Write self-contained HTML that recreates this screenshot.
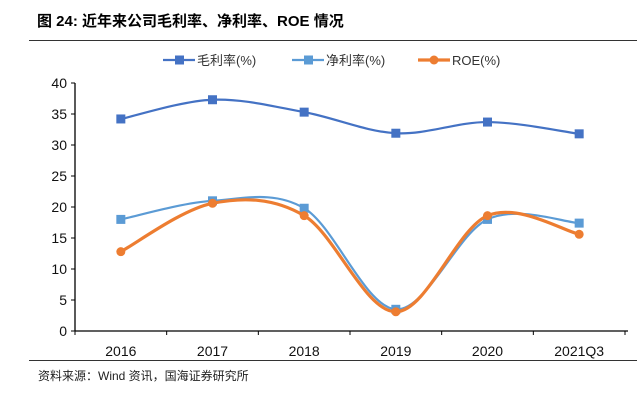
<!DOCTYPE html>
<html><head><meta charset="utf-8"><style>
body{margin:0;width:637px;height:400px;background:#fff;overflow:hidden;font-family:"Liberation Sans","Noto Sans CJK SC",sans-serif}
svg{display:block}
</style></head><body>
<svg id="c" width="637" height="400">
<text x="37" y="26" font-size="15" font-weight="bold" fill="#000" font-family="Liberation Sans, Noto Sans CJK SC, sans-serif">图 24:  近年来公司毛利率、净利率、ROE 情况</text>
<line x1="29" y1="40.5" x2="637" y2="40.5" stroke="#333" stroke-width="1"/>
<line x1="29" y1="360.5" x2="637" y2="360.5" stroke="#333" stroke-width="1"/>
<text x="38" y="380" font-size="12" fill="#222">资料来源：Wind 资讯，国海证券研究所</text>
<g id="legend"></g>
<g id="axes"></g>
<g id="plot"></g>
</svg>
<script>
const categories=["2016","2017","2018","2019","2020","2021Q3"];
const grossMargin=[34.2,37.3,35.3,31.9,33.7,31.8];
const netMargin=[18.0,21.0,19.8,3.5,18.0,17.4];
const roe=[12.8,20.6,18.6,3.1,18.6,15.6];
const yTicks=[0,5,10,15,20,25,30,35,40];
const seriesNames=["毛利率(%)","净利率(%)","ROE(%)"];

const NS="http://www.w3.org/2000/svg";
const X0=75,X1=625,Y0=331,Y1=83,YMAX=40;
const band=(X1-X0)/categories.length;
const xs=i=>X0+band*(i+0.5);
const ys=v=>Y0-(v/YMAX)*(Y0-Y1);
function mk(tag,attrs,parent){const e=document.createElementNS(NS,tag);for(const k in attrs)e.setAttribute(k,attrs[k]);parent.appendChild(e);return e;}
const axes=document.getElementById('axes'),plot=document.getElementById('plot'),leg=document.getElementById('legend');
let ax=mk('line',{x1:X0,y1:Y1,x2:X0,y2:Y0,stroke:'#000','stroke-width':1.3},axes);


let bx=mk('line',{x1:X0,y1:Y0,x2:X1+3,y2:Y0,stroke:'#000','stroke-width':1.3},axes);


yTicks.forEach(t=>{
  const y=ys(t);
  mk('line',{x1:X0-4,y1:y,x2:X0,y2:y,stroke:'#000'},axes);
  const tx=mk('text',{x:X0-8,y:y+5,'font-size':14,'text-anchor':'end',fill:'#111'},axes);
  tx.textContent=t;
  
  
});
for(let i=0;i<=categories.length;i++){const x=X0+band*i;mk('line',{x1:x,y1:Y0,x2:x,y2:Y0+4,stroke:'#000'},axes);}
categories.forEach((c,i)=>{
  const tx=mk('text',{x:xs(i),y:356,'font-size':14,'text-anchor':'middle',fill:'#111'},axes);
  tx.textContent=c;
  
  
});
function smooth(pts){
  let d=`M${pts[0][0]},${pts[0][1]}`;
  for(let i=0;i<pts.length-1;i++){
    const p0=pts[i-1]||pts[i],p1=pts[i],p2=pts[i+1],p3=pts[i+2]||p2,t=6;
    d+=` C${p1[0]+(p2[0]-p0[0])/t},${p1[1]+(p2[1]-p0[1])/t} ${p2[0]-(p3[0]-p1[0])/t},${p2[1]-(p3[1]-p1[1])/t} ${p2[0]},${p2[1]}`;
  }
  return d;
}
const series=[{d:grossMargin,c:'#4472C4',m:'sq',n:'gross-margin'},{d:netMargin,c:'#5B9BD5',m:'sq',n:'net-margin'},{d:roe,c:'#ED7D31',m:'ci',n:'roe'}];
series.forEach(s=>{
  const pts=s.d.map((v,i)=>[xs(i),ys(v)]);
  const p=mk('path',{d:smooth(pts),fill:'none',stroke:s.c,'stroke-width':s.m==='ci'?3.2:2.2},plot);
  
  
  pts.forEach(q=>{
    let m;
    if(s.m==='sq')m=mk('rect',{x:q[0]-4.5,y:q[1]-4.5,width:9,height:9,fill:s.c},plot);
    else m=mk('circle',{cx:q[0],cy:q[1],r:4.5,fill:s.c},plot);
    
    
  });
});
const lx=[163,292,418];
series.forEach((s,i)=>{
  const x=lx[i],y=60;
  const g=mk('g',{},leg);
  
  
  mk('line',{x1:x,y1:y,x2:x+32,y2:y,stroke:s.c,'stroke-width':s.m==='ci'?3.2:2.2},g);
  if(s.m==='sq')mk('rect',{x:x+12,y:y-4.5,width:9,height:9,fill:s.c},g);
  else mk('circle',{cx:x+16,cy:y,r:4.5,fill:s.c},g);
  const t=mk('text',{x:x+34,y:y+5,'font-size':13,fill:'#333'},g);
  t.textContent=seriesNames[i];
});
</script>
</body></html>
